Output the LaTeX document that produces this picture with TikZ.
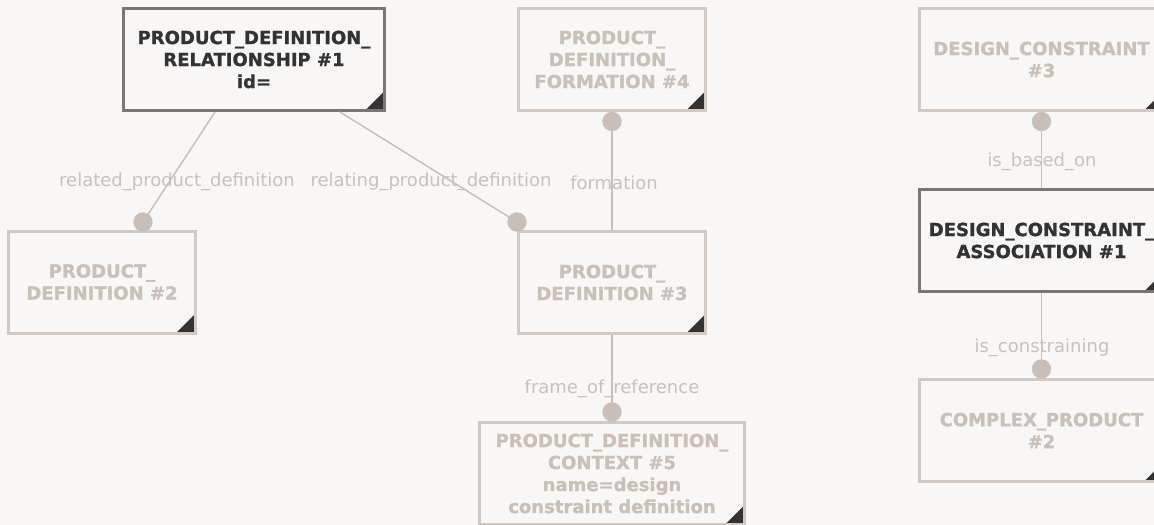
\documentclass[tikz,border=0pt]{standalone}
\usepackage{fontspec}
\setmainfont{DejaVu Sans}
\newfontfamily\entfont[BoldFeatures={FakeBold=1.2}]{DejaVu Sans}
\newfontfamily\rolefont{DejaVu Sans}
\usetikzlibrary{calc}
\definecolor{paper}{HTML}{F8F7F5}
\definecolor{mistEdge}{HTML}{D1C9C2}
\definecolor{mistText}{HTML}{C9C0B8}
\definecolor{linkGray}{HTML}{C8BFB8}
\definecolor{roleGray}{HTML}{C9C1BA}
\definecolor{activeEdge}{HTML}{7C7672}
\definecolor{inkDark}{HTML}{333333}

\begin{document}
\begin{tikzpicture}[x=0.75pt, y=-0.75pt,
    entity/.style={draw=mistEdge, line width=2.25pt, fill=paper, text=mistText, align=center,
      minimum width=140.25pt, minimum height=76.5pt, inner sep=0pt,
      font={\entfont\bfseries\fontsize{13.5}{16.5}\selectfont},
      path picture={\fill[inkDark] (path picture bounding box.south east) -- ++(-14.5pt,0pt) -- ++(14.5pt,14.5pt) -- cycle;}},
    current/.style={draw=activeEdge, text=inkDark},
    link/.style={draw=linkGray, line width=1.1pt},
    knob/.style={circle, fill=linkGray, inner sep=0pt, minimum size=14.5pt},
    role/.style={text=roleGray, font={\rolefont\fontsize{13.5}{15}\selectfont}, inner sep=0pt}]
    \path[use as bounding box, fill=paper] (0,0) rectangle (1154,525);
    \clip (0,0) rectangle (1154,525);

    % entities
    \node[entity, current, minimum width=195.75pt] (pdr) at (254,59.5) {PRODUCT\_DEFINITION\_\\RELATIONSHIP \#1\\id=};
    \node[entity] (pd4) at (612,59.5) {PRODUCT\_\\DEFINITION\_\\FORMATION \#4};
    \node[entity] (pd2) at (102,282) {PRODUCT\_\\DEFINITION \#2};
    \node[entity] (pd3) at (612,282.5) {PRODUCT\_\\DEFINITION \#3};
    \node[entity, minimum width=198.75pt] (pdc) at (612,473.5) {PRODUCT\_DEFINITION\_\\CONTEXT \#5\\name=design\\constraint definition};
    \node[entity, minimum width=183pt] (dc3) at (1041.5,59.5) {DESIGN\_CONSTRAINT\\\#3};
    \node[entity, current, minimum width=183pt] (dca) at (1041.5,240.5) {DESIGN\_CONSTRAINT\_\\ASSOCIATION \#1};
    \node[entity, minimum width=183pt] (cp2) at (1041.5,430.5) {COMPLEX\_PRODUCT\\\#2};

    % attribute ends
    \node[knob] (k2) at ($(pd2.north)+(41,-7.5)$) {};
    \node[knob] (k3) at ($(pd3.north west)+(0,-8)$) {};
    \node[knob] (kf) at ($(pd4.south)+(0,9.5)$) {};
    \node[knob] (kr) at ($(pdc.north)+(0,-9)$) {};
    \node[knob] (kb) at ($(dc3.south)+(0,9.5)$) {};
    \node[knob] (kc) at ($(cp2.north)+(0,-9)$) {};

    \draw[link] ($(pdr.south)+(-39,0)$) -- (k2.center);
    \draw[link] ($(pdr.south)+(86,0)$) -- (k3.center);
    \draw[link] (pd3.north) -- (kf.center);
    \draw[link] (pd3.south) -- (kr.center);
    \draw[link] (dca.north) -- (kb.center);
    \draw[link] (dca.south) -- (kc.center);

    % attribute names
    \node[role] (lrel) at (177,182) {related\_product\_definition};
    \node[role] (lrlg) at (431,182) {relating\_product\_definition};
    \node[role] (lfrm) at (614,183) {formation};
    \node[role] (lfor) at (612,389) {frame\_of\_reference};
    \node[role] (lbas) at (1042,162) {is\_based\_on};
    \node[role] (lcon) at (1042,348) {is\_constraining};
\end{tikzpicture}
\end{document}
